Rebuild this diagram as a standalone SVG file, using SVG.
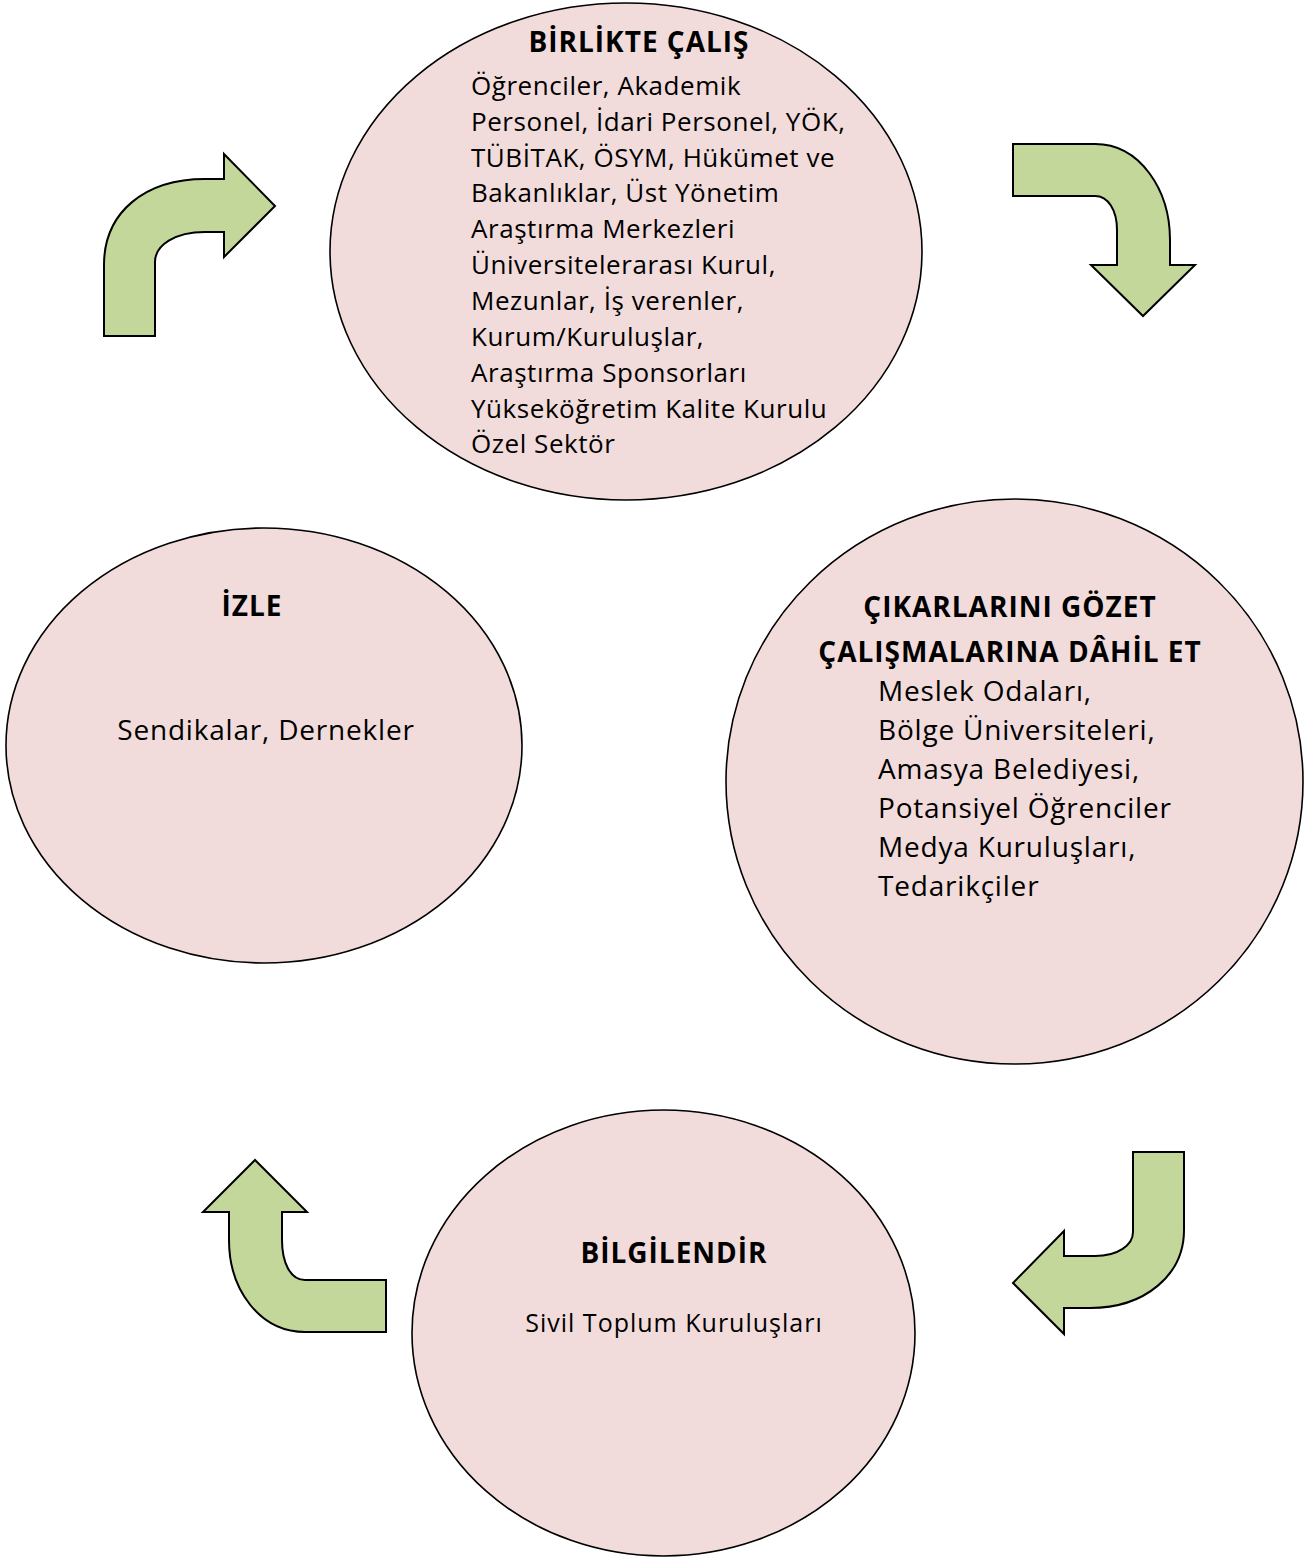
<svg xmlns="http://www.w3.org/2000/svg" width="1309" height="1558" viewBox="0 0 1309 1558">
<style>
.node{fill:#F2DCDB;stroke:#000;stroke-width:1.6}
.arr{fill:#C4D79B;stroke:#000;stroke-width:2;stroke-linejoin:miter}
text{font-family:"Open Sans","Noto Sans","Liberation Sans",sans-serif;fill:#000}
.t{font-weight:bold;font-size:28px;letter-spacing:1px;text-anchor:middle}
.b{font-size:26px;letter-spacing:0.55px}
.r{font-size:28px;letter-spacing:0.8px}
.s{font-size:25px;letter-spacing:1px;text-anchor:middle}
</style>
<rect width="1309" height="1558" fill="#fff"/>
<g id="connectors">
<path class="arr" d="M104,336 V265 C104,212 145,179 205,179 H224 V154 L275,206 L224,257 V232 H205 C175,232 155,245 155,262 V336 Z"/>
<path class="arr" d="M1013,144 H1095 C1140,144 1170,190 1170,240 V265 H1195 L1143,316 L1091,265 H1117 V230 C1117,210 1108,196 1095,196 H1013 Z"/>
<path class="arr" d="M1133,1152 H1184 V1230 C1184,1275 1145,1308 1090,1308 H1064 V1334 L1013,1283 L1064,1231 V1256 H1095 C1118,1256 1133,1245 1133,1232 Z"/>
<path class="arr" d="M386,1280 V1332 H305 C260,1332 229,1290 229,1240 V1212 H203 L255,1160 L307,1212 H282 V1240 C282,1262 290,1280 305,1280 Z"/>
</g>
<g id="birlikte">
<ellipse class="node" cx="626" cy="251.5" rx="296" ry="248.5"/>
<text class="t" x="639" y="52">BİRLİKTE ÇALIŞ</text>
<text class="b" x="471" y="95">Öğrenciler, Akademik</text>
<text class="b" x="471" y="131">Personel, İdari Personel, YÖK,</text>
<text class="b" x="471" y="167">TÜBİTAK, ÖSYM, Hükümet ve</text>
<text class="b" x="471" y="202">Bakanlıklar, Üst Yönetim</text>
<text class="b" x="471" y="238">Araştırma Merkezleri</text>
<text class="b" x="471" y="274">Üniversitelerarası Kurul,</text>
<text class="b" x="471" y="310">Mezunlar, İş verenler,</text>
<text class="b" x="471" y="346">Kurum/Kuruluşlar,</text>
<text class="b" x="471" y="382">Araştırma Sponsorları</text>
<text class="b" x="471" y="418">Yükseköğretim Kalite Kurulu</text>
<text class="b" x="471" y="453">Özel Sektör</text>
</g>
<g id="cikar">
<ellipse class="node" cx="1014.5" cy="781.5" rx="288.5" ry="282.5"/>
<text class="t" x="1010" y="617">ÇIKARLARINI GÖZET</text>
<text class="t" x="1010" y="662">ÇALIŞMALARINA DÂHİL ET</text>
<text class="r" x="878" y="701">Meslek Odaları,</text>
<text class="r" x="878" y="740">Bölge Üniversiteleri,</text>
<text class="r" x="878" y="779">Amasya Belediyesi,</text>
<text class="r" x="878" y="818">Potansiyel Öğrenciler</text>
<text class="r" x="878" y="857">Medya Kuruluşları,</text>
<text class="r" x="878" y="896">Tedarikçiler</text>
</g>
<g id="izle">
<ellipse class="node" cx="264" cy="745.5" rx="258" ry="217.5"/>
<text class="t" x="252" y="616">İZLE</text>
<text class="r" x="266" y="740" text-anchor="middle">Sendikalar, Dernekler</text>
</g>
<g id="bilgilendir">
<ellipse class="node" cx="663.5" cy="1333" rx="251.5" ry="223"/>
<text class="t" x="674" y="1263">BİLGİLENDİR</text>
<text class="s" x="674" y="1332">Sivil Toplum Kuruluşları</text>
</g>
</svg>
